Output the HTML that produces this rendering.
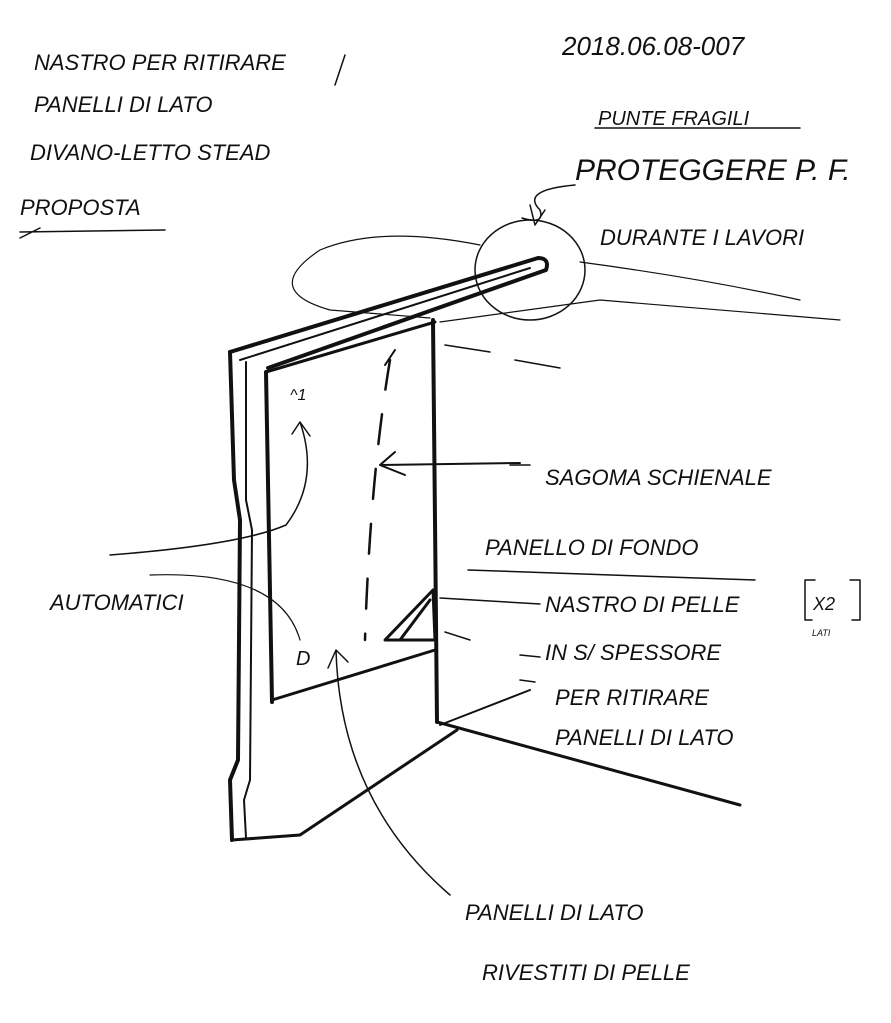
<!DOCTYPE html>
<html><head><meta charset="utf-8"><style>
html,body{margin:0;padding:0;background:#fff;}
svg{display:block}
text{font-family:"Liberation Sans",sans-serif;fill:#111;font-style:italic}
</style></head><body>
<svg width="891" height="1023" viewBox="0 0 891 1023" xmlns="http://www.w3.org/2000/svg">
<g fill="none" stroke="#111" stroke-linecap="round" stroke-linejoin="round">
<!-- beam -->
<path d="M230 352 L538 258 Q550 258 546 270 L268 368" stroke-width="4"/>
<path d="M240 360 L530 268" stroke-width="2"/>
<!-- left edge -->
<path d="M230 352 L234 480 L240 520 L238 760 L230 780 L232 840" stroke-width="4"/>
<path d="M246 362 L246 500 L252 530 L250 780 L244 800 L246 838" stroke-width="2"/>
<!-- bottom -->
<path d="M232 840 L300 835 L457 730" stroke-width="3"/>
<!-- inner rect -->
<path d="M266 372 L435 322" stroke-width="3"/>
<path d="M266 372 L272 702" stroke-width="4"/>
<path d="M272 700 L435 650" stroke-width="3"/>
<path d="M433 320 L437 722" stroke-width="4"/>
<!-- base -->
<path d="M437 722 L740 805" stroke-width="3"/>
<path d="M440 725 L530 690" stroke-width="2"/>
<!-- triangle -->
<path d="M385 640 L433 590 L435 640 Z M400 640 L430 600" stroke-width="3"/>
<!-- dashed curve -->
<path d="M390 360 Q370 480 365 640" stroke-width="2.5" stroke-dasharray="30 25"/>
<path d="M385 365 L395 350" stroke-width="2"/>
<!-- arrows -->
<path d="M380 465 L520 463 M395 452 L380 465 L405 475" stroke-width="2"/>
<path d="M336 650 Q340 800 450 895 M328 668 L336 650 L348 662" stroke-width="1.5"/>
<path d="M110 555 Q240 545 286 525 Q320 480 300 422 M292 434 L300 422 L310 436" stroke-width="1.5"/>
<path d="M150 575 Q280 570 300 640" stroke-width="1.2"/>
<!-- circle -->
<ellipse cx="530" cy="270" rx="55" ry="50" stroke-width="1.5"/>
<path d="M575 185 Q520 190 540 210 Q545 225 522 218" stroke-width="1.5"/>
<path d="M530 205 L535 225 L545 210" stroke-width="1.5"/>
<!-- big swoop -->
<path d="M480 245 Q380 225 320 250 Q260 290 330 310 L430 318" stroke-width="1.2"/>
<path d="M440 322 L600 300 L840 320" stroke-width="1.2"/>
<path d="M580 262 Q700 278 800 300" stroke-width="1.2"/>
<path d="M445 345 L490 352 M515 360 L560 368" stroke-width="1.5"/>
<path d="M510 465 L530 465" stroke-width="1.5"/>
<!-- label lines -->
<path d="M440 598 L540 604" stroke-width="1.5"/>
<path d="M445 632 L470 640 M520 655 L540 657 M520 680 L535 682" stroke-width="1.5"/>
<path d="M468 570 L755 580" stroke-width="1.5"/>
<path d="M595 128 L800 128" stroke-width="1.5"/>
<path d="M20 232 L165 230" stroke-width="1.5"/>
<path d="M20 238 L40 228" stroke-width="1.5"/>
<path d="M335 85 L345 55" stroke-width="1.5"/>
<!-- bracket -->
<path d="M815 580 L805 580 L805 620 L812 620 M850 580 L860 580 L860 620 L852 620" stroke-width="1.5"/>
<text x="290" y="400" font-size="16" stroke="none">^1</text>
<text x="296" y="665" font-size="20" stroke="none">D</text>
</g>
<g font-size="22">
<text x="34" y="70">NASTRO PER RITIRARE</text>
<text x="34" y="112">PANELLI DI LATO</text>
<text x="30" y="160">DIVANO-LETTO STEAD</text>
<text x="20" y="215">PROPOSTA</text>
<text x="562" y="55" font-size="26">2018.06.08-007</text>
<text x="598" y="125" font-size="20">PUNTE FRAGILI</text>
<text x="575" y="180" font-size="30">PROTEGGERE P. F.</text>
<text x="600" y="245">DURANTE I LAVORI</text>
<text x="545" y="485">SAGOMA SCHIENALE</text>
<text x="485" y="555">PANELLO DI FONDO</text>
<text x="50" y="610">AUTOMATICI</text>
<text x="545" y="612">NASTRO DI PELLE</text>
<text x="813" y="610" font-size="18">X2</text>
<text x="812" y="636" font-size="9">LATI</text>
<text x="545" y="660">IN S/ SPESSORE</text>
<text x="555" y="705">PER RITIRARE</text>
<text x="555" y="745">PANELLI DI LATO</text>
<text x="465" y="920">PANELLI DI LATO</text>
<text x="482" y="980">RIVESTITI DI PELLE</text>
</g>
</svg>
</body></html>
